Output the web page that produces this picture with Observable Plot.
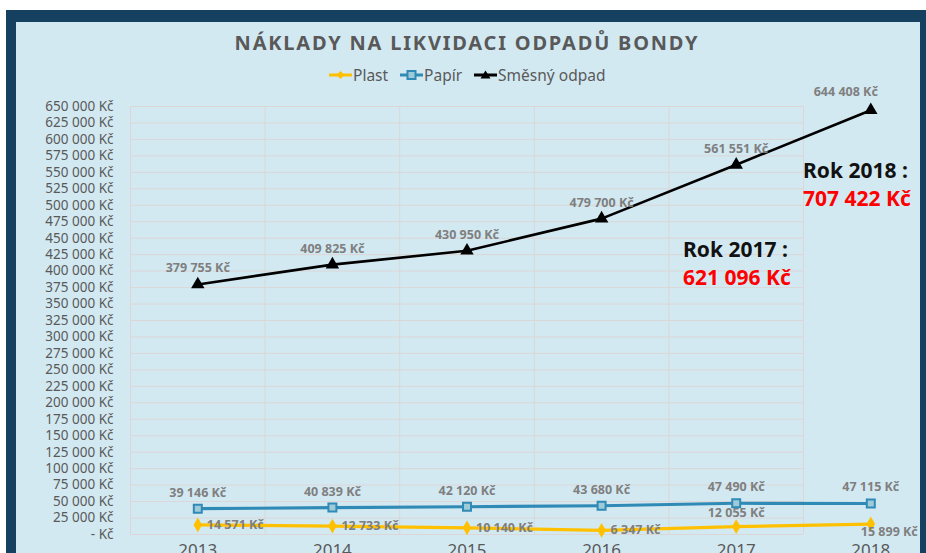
<!DOCTYPE html>
<html>
<head>
<meta charset="utf-8">
<script src="https://cdn.jsdelivr.net/npm/d3@7"></script>
<script src="https://cdn.jsdelivr.net/npm/@observablehq/plot@0.6"></script>
<style>
  html, body { margin: 0; padding: 0; }
  body { width: 926px; height: 553px; overflow: hidden; position: relative; background: #ffffff; font-family: "Noto Sans", sans-serif; }
  #frame { position: absolute; left: 6px; top: 10px; width: 920px; height: 560px; background: #16405f; }
  #inner { position: absolute; left: 16px; top: 22px; width: 904px; height: 560px; background: #d3e9f2; }
  #title { position: absolute; left: 0; width: 934px; top: 29px; text-align: center; font-size: 20px; font-weight: 700; letter-spacing: 1.8px; color: #595959; white-space: nowrap; }
  #legend { position: absolute; left: 329px; top: 65px; height: 20px; display: flex; align-items: center; font-size: 15.5px; color: #595959; white-space: nowrap; }
  #legend .item { display: flex; align-items: center; margin-right: 12px; }
  #legend svg { margin-right: 1px; }
  #chart { position: absolute; left: 0; top: 0; }
  .ann { position: absolute; font-weight: 700; font-size: 21px; white-space: nowrap; line-height: 1; }
  .ann .k { color: #111111; }
  .ann .v { color: #ff0000; display: block; margin-top: 7px; }
</style>
</head>
<body>
<div id="frame"></div>
<div id="inner"></div>
<div id="chart"></div>
<div id="title">NÁKLADY NA LIKVIDACI ODPADŮ BONDY</div>
<div id="legend"></div>
<div class="ann" style="left:803px; top:160px;"><span class="k">Rok 2018 :</span><span class="v">707 422 Kč</span></div>
<div class="ann" style="left:683px; top:239px;"><span class="k">Rok 2017 :</span><span class="v">621 096 Kč</span></div>
<script>
// ---- data ----
const years = [2013, 2014, 2015, 2016, 2017, 2018];
const plast = [14571, 12733, 10140, 6347, 12055, 15899];
const papir = [39146, 40839, 42120, 43680, 47490, 47115];
const smesny = [379755, 409825, 430950, 479700, 561551, 644408];
const seriesNames = ["Plast", "Papír", "Směsný odpad"];
const seriesColors = ["#ffc000", "#2f8ab5", "#000000"];
const yTicks = d3.range(0, 650001, 25000);

const fmt = v => v === 0 ? "- Kč" : d3.format(",")(v).replace(/,/g, " ") + " Kč";

const rows = (vals, s) => years.map((y, i) => ({year: y, value: vals[i], series: s, i}));
const dPlast = rows(plast, "Plast");
const dPapir = rows(papir, "Papír");
const dSmes = rows(smesny, "Směsný odpad");

const gridX = years.map(y => y - 0.5);
const labelStyle = {fill: "#7f7f7f", fontWeight: "bold", fontSize: 12.5, text: d => fmt(d.value)};

const chart = Plot.plot({
  width: 926,
  height: 570,
  marginTop: 106,
  marginLeft: 130,
  marginRight: 123,
  marginBottom: 36,
  style: {background: "transparent", fontFamily: "Noto Sans, sans-serif", color: "#595959", overflow: "visible"},
  x: {type: "linear", domain: [2012.5, 2017.5], axis: null},
  y: {domain: [0, 650000], axis: null},
  marks: [
    Plot.ruleY(yTicks, {stroke: "#dcd6d6", strokeWidth: 1}),
    Plot.ruleX(gridX, {stroke: "#dcd6d6", strokeWidth: 1}),
    Plot.axisY({ticks: yTicks, tickSize: 0, tickPadding: 17, tickFormat: fmt, fontSize: 13.5, anchor: "left", label: null}),
    Plot.text(years, {x: d => d, frameAnchor: "bottom", dy: 21, text: d => String(d), fontSize: 17, fill: "#595959"}),
    Plot.line(dPlast, {x: "year", y: "value", stroke: seriesColors[0], strokeWidth: 3.2}),
    Plot.line(dPapir, {x: "year", y: "value", stroke: seriesColors[1], strokeWidth: 3.2}),
    Plot.line(dSmes, {x: "year", y: "value", stroke: seriesColors[2], strokeWidth: 2.6}),
    Plot.dot(dPlast, {x: "year", y: "value", symbol: "diamond", fill: seriesColors[0], r: 4.5}),
    Plot.dot(dPapir, {x: "year", y: "value", symbol: "square", fill: "#9fcbd8", stroke: seriesColors[1], strokeWidth: 2, r: 4.5}),
    Plot.dot(dSmes, {x: "year", y: "value", symbol: "triangle", fill: "#000000", r: 5}),
    Plot.text(dSmes.filter(d => d.i < 5), {x: "year", y: "value", dy: -16, ...labelStyle}),
    Plot.text(dSmes.filter(d => d.i === 5), {x: "year", y: "value", dy: -18, dx: -25, ...labelStyle}),
    Plot.text(dPapir, {x: "year", y: "value", dy: -16, ...labelStyle}),
    Plot.text(dPlast.filter(d => d.i < 4), {x: "year", y: "value", dx: 9, textAnchor: "start", ...labelStyle}),
    Plot.text(dPlast.filter(d => d.i === 4), {x: "year", y: "value", dy: -14, ...labelStyle}),
    Plot.text(dPlast.filter(d => d.i === 5), {x: "year", y: "value", dx: -10, dy: 8, textAnchor: "start", ...labelStyle})
  ]
});
document.getElementById("chart").appendChild(chart);

// legend
const symbols = [
  '<path d="M-4,0L0,-4L4,0L0,4Z" fill="#ffc000"/>',
  '<rect x="-4" y="-4" width="8" height="8" fill="#9fcbd8" stroke="#2f8ab5" stroke-width="2"/>',
  '<path d="M-5,3.5L0,-4.5L5,3.5Z" fill="#000"/>'
];
const leg = document.getElementById("legend");
seriesNames.forEach((n, i) => {
  const it = document.createElement("div");
  it.className = "item";
  it.innerHTML = `<svg width="23" height="12" viewBox="-11.5 -6 23 12"><line x1="-11.5" x2="11.5" y1="0" y2="0" stroke="${seriesColors[i]}" stroke-width="3"/>${symbols[i]}</svg><span>${n}</span>`;
  leg.appendChild(it);
});
</script>
</body>
</html>
